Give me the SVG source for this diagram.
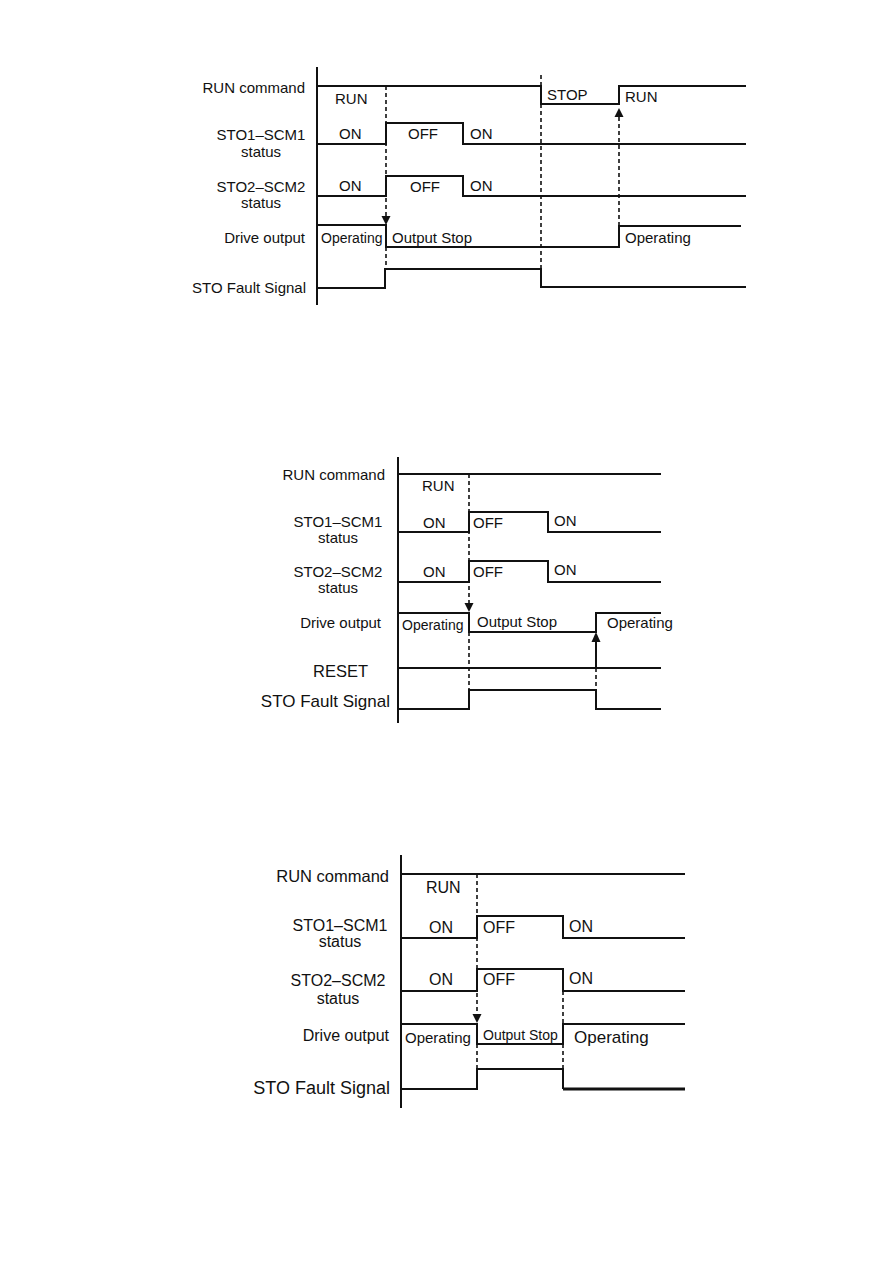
<svg xmlns="http://www.w3.org/2000/svg" width="893" height="1263" viewBox="0 0 893 1263">
<style>
.w{fill:none;stroke:#111;stroke-width:2;stroke-linejoin:miter}
.ax{fill:none;stroke:#111;stroke-width:2}
.d{fill:none;stroke:#111;stroke-width:1.6;stroke-dasharray:4 3}
.ah{fill:#111}
text{font-family:"Liberation Sans",Arial,sans-serif;fill:#111}
.l{font-size:15px;text-anchor:end}
.c{font-size:15px;text-anchor:middle}
.s{font-size:15px}
.sm{font-size:14px}
</style>
<rect width="893" height="1263" fill="#fff"/>

<!-- Diagram 1 -->
<g id="d1">
  <path class="ax" d="M317 67V305"/>
  <g id="d1-run">
    <text class="l" x="305" y="93">RUN command</text>
    <path class="w" d="M317 86H541V104H619V86H746"/>
    <text class="s" x="335" y="104">RUN</text>
    <text class="s" x="547" y="100">STOP</text>
    <text class="s" x="625" y="102">RUN</text>
  </g>
  <g id="d1-sto1">
    <text class="c" x="261" y="140">STO1–SCM1</text>
    <text class="c" x="261" y="157">status</text>
    <path class="w" d="M317 144H386V123H463V144H746"/>
    <text class="s" x="339" y="139">ON</text>
    <text class="s" x="408" y="139">OFF</text>
    <text class="s" x="470" y="139">ON</text>
  </g>
  <g id="d1-sto2">
    <text class="c" x="261" y="192">STO2–SCM2</text>
    <text class="c" x="261" y="208">status</text>
    <path class="w" d="M317 196H386V176H463V196H746"/>
    <text class="s" x="339" y="191">ON</text>
    <text class="s" x="410" y="192">OFF</text>
    <text class="s" x="470" y="191">ON</text>
  </g>
  <g id="d1-drive">
    <text class="l" x="305" y="243">Drive output</text>
    <path class="w" d="M317 225H386V247H619V226H741"/>
    <text class="sm" x="321" y="243">Operating</text>
    <text class="s" x="392" y="243">Output Stop</text>
    <text class="s" x="625" y="243">Operating</text>
  </g>
  <g id="d1-fault">
    <text class="l" x="306" y="293">STO Fault Signal</text>
    <path class="w" d="M317 288H385V269H541V287H746"/>
  </g>
  <g id="d1-connectors">
    <path class="d" d="M386 86V216M386 247V269"/>
    <polygon class="ah" points="381.5,216 390.5,216 386,225"/>
    <path class="d" d="M541 75V86M541 104V269"/>
    <path class="d" d="M619 117V226"/>
    <polygon class="ah" points="614.5,117 623.5,117 619,108"/>
  </g>
</g>

<!-- Diagram 2 -->
<g id="d2">
  <path class="ax" d="M398 457V723"/>
  <g id="d2-run">
    <text class="l" x="385" y="480">RUN command</text>
    <path class="w" d="M398 474H661"/>
    <text class="s" x="422" y="491">RUN</text>
  </g>
  <g id="d2-sto1">
    <text class="c" x="338" y="527">STO1–SCM1</text>
    <text class="c" x="338" y="543">status</text>
    <path class="w" d="M398 532H469V512H548V532H661"/>
    <text class="s" x="423" y="528">ON</text>
    <text class="s" x="473" y="528">OFF</text>
    <text class="s" x="554" y="526">ON</text>
  </g>
  <g id="d2-sto2">
    <text class="c" x="338" y="577">STO2–SCM2</text>
    <text class="c" x="338" y="593">status</text>
    <path class="w" d="M398 582H469V561H548V582H661"/>
    <text class="s" x="423" y="577">ON</text>
    <text class="s" x="473" y="577">OFF</text>
    <text class="s" x="554" y="575">ON</text>
  </g>
  <g id="d2-drive">
    <text class="l" x="381" y="628">Drive output</text>
    <path class="w" d="M398 613H469V632H596V613H661"/>
    <text class="sm" x="402" y="630">Operating</text>
    <text class="s" x="477" y="627">Output Stop</text>
    <text class="s" x="607" y="628">Operating</text>
  </g>
  <g id="d2-reset">
    <text style="font-size:16.5px;text-anchor:end" x="368" y="677">RESET</text>
    <path class="w" d="M398 668H661" style="stroke-width:1.8"/>
  </g>
  <g id="d2-fault">
    <text style="font-size:17px;text-anchor:end" x="390" y="707">STO Fault Signal</text>
    <path class="w" d="M398 709H469V690H596V709H661"/>
  </g>
  <g id="d2-connectors">
    <path class="d" d="M469 474V603M469 632V690"/>
    <polygon class="ah" points="464.5,603 473.5,603 469,612"/>
    <path class="w" d="M596 641V668"/>
    <path class="d" d="M596 668V690"/>
    <polygon class="ah" points="591.5,642 600.5,642 596,632"/>
  </g>
</g>

<!-- Diagram 3 -->
<g id="d3">
  <path class="ax" d="M401 855V1108"/>
  <g id="d3-run">
    <text style="font-size:16.5px;text-anchor:end" x="389" y="882">RUN command</text>
    <path class="w" d="M401 874H685"/>
    <text style="font-size:16px" x="426" y="893">RUN</text>
  </g>
  <g id="d3-sto1">
    <text style="font-size:16px;text-anchor:middle" x="340" y="931">STO1–SCM1</text>
    <text style="font-size:16px;text-anchor:middle" x="340" y="947">status</text>
    <path class="w" d="M401 938H477V916H563V938H685"/>
    <text style="font-size:16px" x="429" y="933">ON</text>
    <text style="font-size:16px" x="483" y="933">OFF</text>
    <text style="font-size:16px" x="569" y="932">ON</text>
  </g>
  <g id="d3-sto2">
    <text style="font-size:16px;text-anchor:middle" x="338" y="986">STO2–SCM2</text>
    <text style="font-size:16px;text-anchor:middle" x="338" y="1004">status</text>
    <path class="w" d="M401 991H477V969H563V991H685"/>
    <text style="font-size:16px" x="429" y="985">ON</text>
    <text style="font-size:16px" x="483" y="985">OFF</text>
    <text style="font-size:16px" x="569" y="984">ON</text>
  </g>
  <g id="d3-drive">
    <text style="font-size:16px;text-anchor:end" x="389" y="1041">Drive output</text>
    <path class="w" d="M401 1024H477V1044H563V1024H685"/>
    <text class="s" x="405" y="1043">Operating</text>
    <text class="sm" x="483" y="1040">Output Stop</text>
    <text style="font-size:17px" x="574" y="1043">Operating</text>
  </g>
  <g id="d3-fault">
    <text style="font-size:18px;text-anchor:end" x="390" y="1094">STO Fault Signal</text>
    <path class="w" d="M401 1089H477V1069H563V1089"/>
    <path class="w" d="M563 1089H685" style="stroke-width:3"/>
  </g>
  <g id="d3-connectors">
    <path class="d" d="M477 874V1014M477 1044V1069"/>
    <polygon class="ah" points="472.5,1014 481.5,1014 477,1023"/>
    <path class="d" d="M563 991V1024M563 1044V1069"/>
  </g>
</g>
</svg>
